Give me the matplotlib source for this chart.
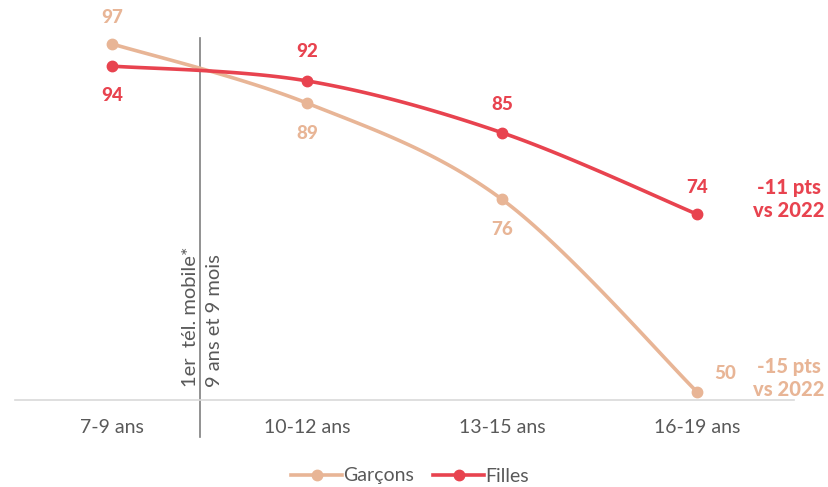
import numpy as np
import matplotlib
matplotlib.use("Agg")
import matplotlib.pyplot as plt

categories = ["7-9 ans", "10-12 ans", "13-15 ans", "16-19 ans"]
garcons = [97, 89, 76, 50]
filles = [94, 92, 85, 74]
series_names = ["Garçons", "Filles"]

C_G = "#E8B596"
C_F = "#E8434F"
GRAY = "#595959"

plt.rcParams['font.family'] = ['Lato', 'DejaVu Sans']

W, H = 829, 487
fig = plt.figure(figsize=(W/100, H/100), dpi=100)
left, right, top, bottom = 14.5, 794.5, 15, 400
ax = fig.add_axes([left/W, 1-bottom/H, (right-left)/W, (bottom-top)/H])

x = np.arange(len(categories))
ax.set_xlim(-0.5, len(categories)-0.5)
ax.set_ylim(48.9, 100.9)

def smooth(xs, ys, n=40, t=0.5):
    xs = np.asarray(xs, float); ys = np.asarray(ys, float)
    px, py = [], []
    P = list(zip(xs, ys))
    P = [P[0]] + P + [P[-1]]
    for i in range(1, len(P)-2):
        p0, p1, p2, p3 = map(np.array, P[i-1:i+3])
        m1 = (p2 - p0) * t
        m2 = (p3 - p1) * t
        s = np.linspace(0, 1, n)
        h00 = 2*s**3 - 3*s**2 + 1; h10 = s**3 - 2*s**2 + s
        h01 = -2*s**3 + 3*s**2; h11 = s**3 - s**2
        pts = np.outer(h00, p1) + np.outer(h10, m1) + np.outer(h01, p2) + np.outer(h11, m2)
        px.extend(pts[:, 0]); py.extend(pts[:, 1])
    return px, py

for vals, col, name in [(garcons, C_G, series_names[0]), (filles, C_F, series_names[1])]:
    sx, sy = smooth(x, vals)
    ax.plot(sx, sy, color=col, lw=2.6, solid_capstyle='round', zorder=3)
    ax.plot(x, vals, 'o', color=col, ms=7.5, zorder=4)
    ax.plot([], [], '-o', color=col, lw=2.6, ms=7.5, label=name)

# data labels
lab_kw = dict(fontsize=13.5, fontweight='black', ha='center', va='center')
pt = 72/100
ax.annotate(str(garcons[0]), (x[0], garcons[0]), xytext=(0, 26*pt), textcoords='offset points', color=C_G, **lab_kw)
ax.annotate(str(filles[0]), (x[0], filles[0]), xytext=(0, -29*pt), textcoords='offset points', color=C_F, **lab_kw)
ax.annotate(str(filles[1]), (x[1], filles[1]), xytext=(0, 29*pt), textcoords='offset points', color=C_F, **lab_kw)
ax.annotate(str(garcons[1]), (x[1], garcons[1]), xytext=(0, -30*pt), textcoords='offset points', color=C_G, **lab_kw)
ax.annotate(str(filles[2]), (x[2], filles[2]), xytext=(0, 28*pt), textcoords='offset points', color=C_F, **lab_kw)
ax.annotate(str(garcons[2]), (x[2], garcons[2]), xytext=(0, -30*pt), textcoords='offset points', color=C_G, **lab_kw)
ax.annotate(str(filles[3]), (x[3], filles[3]), xytext=(0, 27*pt), textcoords='offset points', color=C_F, **lab_kw)
ax.annotate(str(garcons[3]), (x[3], garcons[3]), xytext=(28*pt, 18*pt), textcoords='offset points', color=C_G, **lab_kw)

# right annotations
ax.text(789/W, 1-199/H, "-11 pts\nvs 2022", transform=fig.transFigure, color=C_F, fontsize=14.5,
        fontweight='black', ha='center', va='center', linespacing=1.3)
ax.text(789/W, 1-378/H, "-15 pts\nvs 2022", transform=fig.transFigure, color=C_G, fontsize=14.5,
        fontweight='black', ha='center', va='center', linespacing=1.3)

# vertical marker line
vx = 0.45
ax.axvline(vx, ymin=-0.096, ymax=0.94, color="#7F7F7F", lw=1.2, clip_on=False, zorder=2)
ax.text(vx - 0.05, 50.6, "1er  tél. mobile*", rotation=90, ha='center', va='bottom', color=GRAY, fontsize=14.5)
ax.text(vx + 0.075, 50.6, "9 ans et 9 mois", rotation=90, ha='center', va='bottom', color=GRAY, fontsize=14.5)

# axes styling
for s in ["top", "right", "left"]:
    ax.spines[s].set_visible(False)
ax.spines["bottom"].set_color("#D9D9D9")
ax.spines["bottom"].set_linewidth(1.2)
ax.set_yticks([])
ax.set_xticks(x)
ax.set_xticklabels(categories, color=GRAY, fontsize=14)
ax.tick_params(axis='x', length=0, pad=14)

leg = fig.legend(loc='center', bbox_to_anchor=(410/W, 1-476/H), ncol=2, frameon=False,
                 fontsize=14, handlelength=2.6, columnspacing=1.0, handletextpad=0.05)
for t in leg.get_texts():
    t.set_color(GRAY)

fig.savefig("out.png", dpi=100)
